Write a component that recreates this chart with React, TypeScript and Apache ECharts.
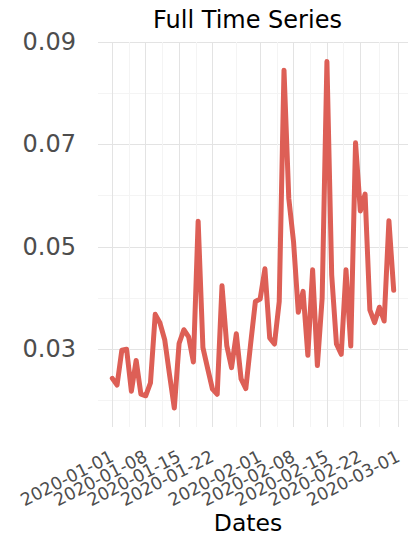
import React, { useEffect, useRef } from "react";
import * as echarts from "echarts";

const dates: string[] = [
  "2020-01-01", "2020-01-02", "2020-01-03", "2020-01-04", "2020-01-05",
  "2020-01-06", "2020-01-07", "2020-01-08", "2020-01-09", "2020-01-10",
  "2020-01-11", "2020-01-12", "2020-01-13", "2020-01-14", "2020-01-15",
  "2020-01-16", "2020-01-17", "2020-01-18", "2020-01-19", "2020-01-20",
  "2020-01-21", "2020-01-22", "2020-01-23", "2020-01-24", "2020-01-25",
  "2020-01-26", "2020-01-27", "2020-01-28", "2020-01-29", "2020-01-30",
  "2020-01-31", "2020-02-01", "2020-02-02", "2020-02-03", "2020-02-04",
  "2020-02-05", "2020-02-06", "2020-02-07", "2020-02-08", "2020-02-09",
  "2020-02-10", "2020-02-11", "2020-02-12", "2020-02-13", "2020-02-14",
  "2020-02-15", "2020-02-16", "2020-02-17", "2020-02-18", "2020-02-19",
  "2020-02-20", "2020-02-21", "2020-02-22", "2020-02-23", "2020-02-24",
  "2020-02-25", "2020-02-26", "2020-02-27", "2020-02-28", "2020-02-29",
];

const values: number[] = [
  0.0243, 0.023, 0.0298, 0.03, 0.0218, 0.0278, 0.0212, 0.0209, 0.0234, 0.0368,
  0.0351, 0.0318, 0.025, 0.0185, 0.0311, 0.0338, 0.0324, 0.0275, 0.055, 0.0303,
  0.0262, 0.0222, 0.0212, 0.0424, 0.0307, 0.0264, 0.033, 0.0242, 0.0223, 0.031,
  0.0393, 0.0398, 0.0457, 0.0322, 0.031, 0.0393, 0.0845, 0.0595, 0.051, 0.0372,
  0.0413, 0.0288, 0.0455, 0.0268, 0.04, 0.0862, 0.0445, 0.031, 0.029, 0.0455,
  0.0306, 0.0703, 0.057, 0.0603, 0.0377, 0.0352, 0.0382, 0.0355, 0.0551, 0.0415,
];

// major date breaks (labelled); drawn on two overlaid axes so that no label is culled
const xMajorTicks: string[] = [
  "2020-01-01", "2020-01-08", "2020-01-15", "2020-01-22", "2020-02-01",
  "2020-02-08", "2020-02-15", "2020-02-22", "2020-03-01",
];
const xMinorTicks: string[] = [
  "2020-01-04 12:00", "2020-01-11 12:00", "2020-01-18 12:00", "2020-01-27 00:00",
  "2020-02-04 12:00", "2020-02-11 12:00", "2020-02-18 12:00", "2020-02-26 00:00",
];
const xRange: string[] = ["2019-12-29", "2020-03-03"];

const yMajorTicks: number[] = [0.03, 0.05, 0.07, 0.09];
const yMinorTicks: number[] = [0.02, 0.04, 0.06, 0.08];
const yRange: number[] = [0.0148, 0.09];

const toMs = (s: string): number => {
  const [d, t] = s.split(" ");
  const [y, m, day] = d.split("-").map(Number);
  const [hh, mm] = t ? t.split(":").map(Number) : [0, 0];
  return Date.UTC(y, m - 1, day, hh, mm);
};

const FONT = "DejaVu Sans";
const MAJOR = "#e3e3e3";
const MINOR = "#f4f4f4";
const LINE = "#dd5f56";

export default function App() {
  const ref = useRef<HTMLDivElement>(null);
  useEffect(() => {
    if (!ref.current) return;
    const chart = echarts.init(ref.current, undefined, { renderer: "svg" });
    const majorMs = xMajorTicks.map(toMs);
    const minorMs = xMinorTicks.map(toMs);
    const evenMs = majorMs.filter((_, i) => i % 2 === 0);
    const oddMs = majorMs.filter((_, i) => i % 2 === 1);
    const labelMap: Record<string, string> = {};
    xMajorTicks.forEach((s, i) => (labelMap[String(majorMs[i])] = s));
    const xBase = {
      type: "value",
      position: "bottom",
      offset: 0,
      min: toMs(xRange[0]),
      max: toMs(xRange[1]),
      axisLine: { show: false },
      axisTick: { show: false },
    };
    const xLabel = (vals: number[]) => ({
      customValues: vals,
      rotate: 27,
      margin: 28,
      showMinLabel: true,
      showMaxLabel: true,
      hideOverlap: false,
      fontFamily: FONT,
      fontSize: 17.5,
      color: "#4d4d4d",
      formatter: (v: number) => labelMap[String(Math.round(v))] ?? "",
    });
    const yBase = {
      type: "value",
      position: "left",
      offset: 0,
      min: yRange[0],
      max: yRange[1],
      axisLine: { show: false },
      axisTick: { show: false },
    };
    chart.setOption({
      animation: false,
      backgroundColor: "#ffffff",
      grid: {
        left: 98,
        right: 9,
        top: 42,
        bottom: 120,
        containLabel: false,
        outerBoundsMode: "none",
      },
      graphic: [
        {
          type: "text",
          x: 247.5,
          y: 20,
          style: {
            text: "Full Time Series",
            font: `24px '${FONT}'`,
            fill: "#000000",
            textAlign: "center",
            textVerticalAlign: "middle",
          },
        },
        {
          type: "text",
          x: 248,
          y: 523,
          style: {
            text: "Dates",
            font: `23.5px '${FONT}'`,
            fill: "#000000",
            textAlign: "center",
            textVerticalAlign: "middle",
          },
        },
      ],
      xAxis: [
        {
          ...xBase,
          axisTick: { show: false, customValues: evenMs },
          axisLabel: xLabel(evenMs),
          splitLine: { show: true, lineStyle: { color: MAJOR, width: 1 } },
        },
        {
          ...xBase,
          axisTick: { show: false, customValues: oddMs },
          axisLabel: xLabel(oddMs),
          splitLine: { show: true, lineStyle: { color: MAJOR, width: 1 } },
        },
        {
          ...xBase,
          axisTick: { show: false, customValues: minorMs },
          axisLabel: { show: false },
          splitLine: { show: true, lineStyle: { color: MINOR, width: 1 } },
        },
      ],
      yAxis: [
        {
          ...yBase,
          axisTick: { show: false, customValues: yMajorTicks },
          axisLabel: {
            customValues: yMajorTicks,
            margin: 22,
            fontFamily: FONT,
            fontSize: 24,
            color: "#4d4d4d",
            formatter: (v: number) => v.toFixed(2),
          },
          splitLine: { show: true, lineStyle: { color: MAJOR, width: 1 } },
        },
        {
          ...yBase,
          axisTick: { show: false, customValues: yMinorTicks },
          axisLabel: { show: false },
          splitLine: { show: true, lineStyle: { color: MINOR, width: 1 } },
        },
      ],
      series: [
        {
          type: "line",
          xAxisIndex: 0,
          yAxisIndex: 0,
          data: dates.map((d, i) => [toMs(d), values[i]]),
          showSymbol: false,
          symbol: "none",
          lineStyle: { color: LINE, width: 5, cap: "round", join: "round" },
          z: 5,
        },
      ],
    });
    return () => chart.dispose();
  }, []);
  return (
    <div
      ref={ref}
      style={{ position: "fixed", left: 0, top: 0, width: 417, height: 547 }}
    />
  );
}
